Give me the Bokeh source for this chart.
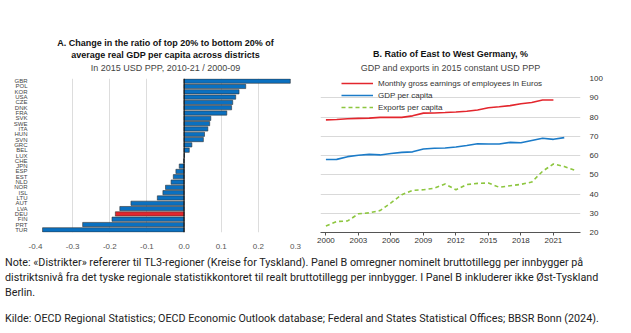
from bokeh.plotting import figure
from bokeh.models import (Title, Span, FixedTicker, NumeralTickFormatter,
                          Legend, LegendItem, Div, ColumnDataSource, Range1d, FactorRange)
from bokeh.layouts import row, column
from bokeh.embed import file_html
from bokeh.resources import INLINE

# ---------------- data ----------------
countries = ["GBR", "POL", "KOR", "USA", "CZE", "DNK", "FRA", "SVK", "SWE", "ITA",
             "HUN", "SVN", "GRC", "BEL", "LUX", "CHE", "JPN", "ESP", "EST", "NLD",
             "NOR", "ISL", "LTU", "AUT", "LVA", "DEU", "FIN", "PRT", "TUR"]
ratio_change = [0.286, 0.166, 0.148, 0.139, 0.131, 0.128, 0.115, 0.072, 0.069, 0.064,
                0.055, 0.052, 0.021, 0.014, 0.001, -0.001, -0.013, -0.022, -0.029, -0.035,
                -0.050, -0.057, -0.072, -0.143, -0.173, -0.185, -0.194, -0.273, -0.381]
highlight = "DEU"
a_ticks = [-0.4, -0.3, -0.2, -0.1, 0.0, 0.1, 0.2, 0.3]

years_earn = list(range(2000, 2022))
earnings = [78.5, 78.7, 79.1, 79.3, 79.4, 79.8, 79.9, 79.8, 80.6, 82.0, 82.1, 82.3,
            82.6, 83.0, 83.6, 84.8, 85.3, 85.9, 86.9, 87.5, 88.8, 88.8]
years_gdp = list(range(2000, 2023))
gdp_pc = [57.9, 58.0, 59.4, 60.1, 60.6, 60.3, 61.0, 61.6, 61.9, 63.4, 63.8, 63.9,
          64.4, 65.2, 66.1, 66.0, 66.0, 66.8, 66.6, 67.8, 69.0, 68.4, 69.3]
years_exp = list(range(2000, 2024))
exports_pc = [23.4, 25.7, 26.0, 29.7, 30.2, 31.4, 35.4, 39.6, 41.9, 42.2, 43.0, 45.2,
              42.2, 44.9, 45.5, 45.7, 43.5, 44.3, 45.0, 46.2, 51.8, 55.6, 54.3, 52.3]
b_xticks = [2000, 2003, 2006, 2009, 2012, 2015, 2018, 2021]
b_yticks = [20, 30, 40, 50, 60, 70, 80, 90, 100]

FONT = "Liberation Sans"
BLUE = "#0a70c0"
RED = "#e3262d"

# ---------------- Panel A ----------------
bar_colors = [RED if c == highlight else BLUE for c in countries]
srcA = ColumnDataSource(dict(country=countries, val=ratio_change, color=bar_colors))

pA = figure(width=315, height=255, output_backend="svg", toolbar_location=None,
            y_range=FactorRange(factors=list(reversed(countries))),
            x_range=Range1d(-0.4, 0.3),
            min_border_left=35, min_border_right=20, min_border_top=78, min_border_bottom=23)
pA.hbar(y="country", right="val", left=0, height=0.8, fill_color="color",
        line_color="#333333", line_width=0.6, source=srcA)
pA.add_layout(Span(location=0, dimension="height", line_color="black", line_width=1))

pA.xaxis.ticker = FixedTicker(ticks=a_ticks)
pA.xaxis.formatter = NumeralTickFormatter(format="0.0")
pA.xaxis.axis_line_color = None
pA.xaxis.major_tick_line_color = None
pA.xaxis.minor_tick_line_color = None
pA.xaxis.major_label_text_font = FONT
pA.xaxis.major_label_text_font_size = "8px"
pA.xaxis.major_label_text_color = "#555555"
pA.xaxis.major_label_standoff = 5

pA.yaxis.axis_line_color = None
pA.yaxis.major_tick_line_color = None
pA.yaxis.major_label_text_font = FONT
pA.yaxis.major_label_text_font_size = "6px"
pA.yaxis.major_label_text_color = "#444444"
pA.yaxis.major_label_standoff = 2

pA.ygrid.grid_line_color = None
pA.xgrid.ticker = FixedTicker(ticks=a_ticks)
pA.xgrid.grid_line_color = "#dddddd"
pA.outline_line_color = None

pA.add_layout(Title(text="In 2015 USD PPP, 2010-21 / 2000-09", align="center",
                    vertical_align="top",
                    text_font=FONT, text_font_size="9px", text_font_style="normal",
                    text_color="#444444", standoff=7, offset=-9), "above")
pA.add_layout(Title(text="average real GDP per capita across districts", align="center",
                    text_font=FONT, text_font_size="9px", text_font_style="bold",
                    text_color="#111111", standoff=0, offset=-9), "above")
pA.add_layout(Title(text="A. Change in the ratio of top 20% to bottom 20% of", align="center",
                    text_font=FONT, text_font_size="9px", text_font_style="bold",
                    text_color="#111111", standoff=0, offset=-9), "above")

# ---------------- Panel B ----------------
pB = figure(width=316, height=255, output_backend="svg", toolbar_location=None,
            x_range=Range1d(1999.5, 2023.5), y_range=Range1d(20, 100),
            y_axis_location="right",
            min_border_left=5, min_border_right=51, min_border_top=78, min_border_bottom=21)
r_earn = pB.line(years_earn, earnings, line_color=RED, line_width=1.6)
r_gdp = pB.line(years_gdp, gdp_pc, line_color="#1b7bc8", line_width=1.6)
r_exp = pB.line(years_exp, exports_pc, line_color="#8dc63f", line_width=1.6, line_dash="4 3")

pB.xaxis.ticker = FixedTicker(ticks=b_xticks)
pB.xaxis.axis_line_color = "#555555"
pB.xaxis.major_tick_line_color = "#555555"
pB.xaxis.major_tick_in = 0
pB.xaxis.major_tick_out = 3
pB.xaxis.minor_tick_line_color = None
pB.xaxis.major_label_text_font = FONT
pB.xaxis.major_label_text_font_size = "8px"
pB.xaxis.major_label_text_color = "#333333"
pB.xaxis.major_label_standoff = 2

pB.yaxis.ticker = FixedTicker(ticks=b_yticks)
pB.yaxis.axis_line_color = None
pB.yaxis.major_tick_line_color = None
pB.yaxis.minor_tick_line_color = None
pB.yaxis.major_label_text_font = FONT
pB.yaxis.major_label_text_font_size = "8px"
pB.yaxis.major_label_text_color = "#333333"
pB.yaxis.major_label_standoff = 3

pB.xgrid.grid_line_color = None
pB.ygrid.ticker = FixedTicker(ticks=b_yticks)
pB.ygrid.grid_line_color = "#d9d9d9"
pB.outline_line_color = None

legend = Legend(items=[LegendItem(label="Monthly gross earnings of employees in Euros", renderers=[r_earn]),
                       LegendItem(label="GDP per capita", renderers=[r_gdp]),
                       LegendItem(label="Exports per capita", renderers=[r_exp])],
                location=(21, 120), border_line_alpha=0, background_fill_alpha=0,
                label_text_font=FONT, label_text_font_size="8px", label_text_color="#333333",
                glyph_width=32, glyph_height=10, label_height=10, spacing=2,
                padding=0, margin=0, label_standoff=5)
pB.add_layout(legend, "center")

pB.add_layout(Title(text="GDP and exports in 2015 constant USD PPP", align="center",
                    vertical_align="top",
                    text_font=FONT, text_font_size="9px", text_font_style="normal",
                    text_color="#444444", standoff=8, offset=0), "above")
pB.add_layout(Title(text="B. Ratio of East to West Germany, %", align="center",
                    text_font=FONT, text_font_size="9px", text_font_style="bold",
                    text_color="#111111", standoff=0, offset=0), "above")

# ---------------- Notes ----------------
note_lines = [
    "Note: «Distrikter» refererer til TL3-regioner (Kreise for Tyskland). Panel B omregner nominelt bruttotillegg per innbygger på",
    "distriktsnivå fra det tyske regionale statistikkontoret til realt bruttotillegg per innbygger. I Panel B inkluderer ikke Øst-Tyskland",
    "Berlin.",
]
source_line = "Kilde: OECD Regional Statistics; OECD Economic Outlook database; Federal and States Statistical Offices; BBSR Bonn (2024)."

html = ('<div style="font-family: Roboto, sans-serif; font-size: 10.75px; line-height: 15px; '
        'color: #222; white-space: nowrap; padding-left: 5px;">'
        + "<br>".join(note_lines)
        + '<div style="margin-top: 11px;">' + source_line + '</div></div>')
notes = Div(text=html, width=631, height=78, margin=0)

layout = column(row(pA, pB, spacing=0), notes, spacing=0)

with open("out.html", "w") as f:
    f.write(file_html(layout, INLINE))
